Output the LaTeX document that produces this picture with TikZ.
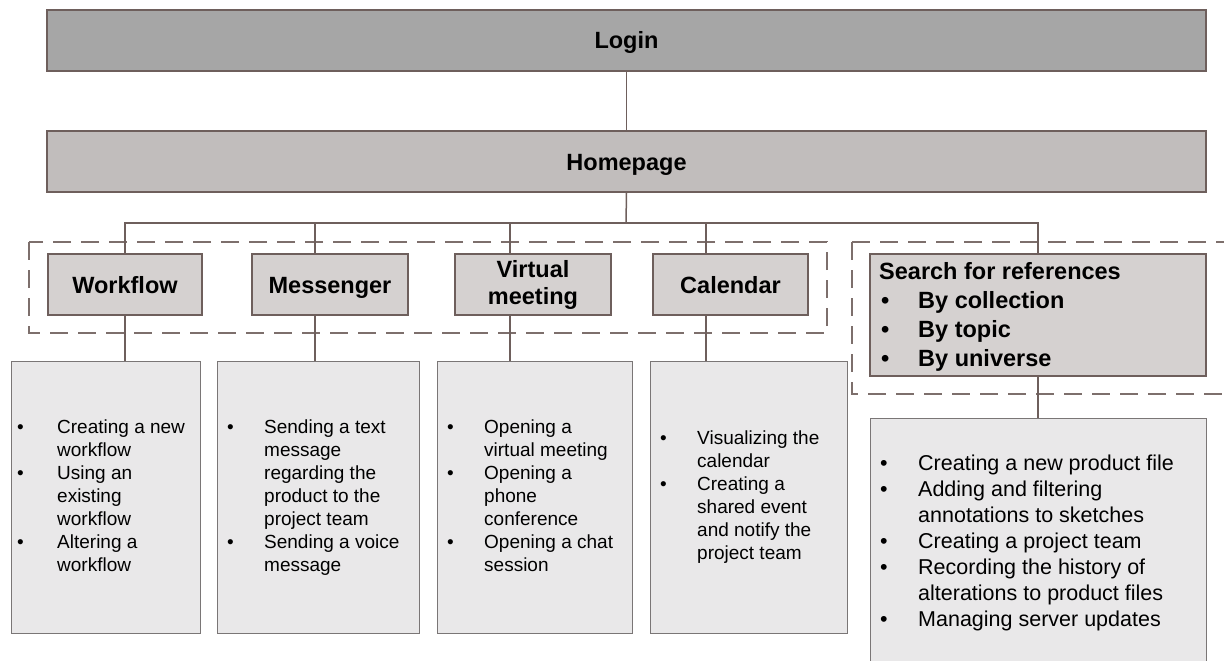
\documentclass[tikz,border=0pt]{standalone}
\usepackage{fontspec}
\setmainfont{Liberation Sans}
\usetikzlibrary{calc}
\definecolor{edge}{HTML}{6E5F5C}
\definecolor{loginfill}{HTML}{A6A6A6}
\definecolor{homefill}{HTML}{C1BDBC}
\definecolor{modfill}{HTML}{D5D1D0}
\definecolor{detfill}{HTML}{E9E8E9}
\definecolor{detedge}{HTML}{7A7676}
\newlength{\bulind}
\newcommand{\B}{\makebox[\bulind][l]{\textbullet}}
\begin{document}
\begin{tikzpicture}[x=1pt,y=-1pt,
  topbox/.style={draw=edge,line width=1.5pt,inner sep=0pt,minimum width=1159pt,minimum height=61pt,text height=17pt,text depth=0pt,font=\fontsize{23.5}{28}\selectfont\bfseries},
  modbox/.style={draw=edge,line width=1.5pt,fill=modfill,inner sep=0pt,minimum height=61pt,align=center,font=\fontsize{23.5}{28}\selectfont\bfseries},
  oneline/.style={text height=17pt,text depth=0pt},
  detbox/.style={draw=detedge,line width=1pt,fill=detfill,inner sep=0pt},
  dettext/.style={inner sep=0pt,anchor=north west,font=\fontsize{19}{23}\selectfont},
  conn/.style={draw=edge,line width=1.5pt},
  group/.style={draw=edge!90,line width=1.1pt,dash pattern=on 18pt off 10pt}]
\useasboundingbox (0,0) rectangle (1224,661);

% group frames
\draw[group] (29,242) rectangle (827,333);
\draw[group] (852,242) -- (1224,242);
\draw[group] (852,242) -- (852,394) -- (1224,394);

% top boxes
\node[topbox,fill=loginfill] (login) at (626.5,40.5) {Login};
\node[topbox,fill=homefill] (home) at (626.5,161.5) {Homepage};

% module boxes
\node[modbox,oneline,minimum width=154pt] (wf) at (125,284.5) {Workflow};
\node[modbox,oneline,minimum width=156pt] (msg) at (330,284.5) {Messenger};
\node[modbox,minimum width=156pt] (vm) at (533,284.5) {Virtual\\[-1pt]meeting};
\node[modbox,oneline,minimum width=155pt] (cal) at (730.5,284.5) {Calendar};
\node[modbox,minimum width=336pt,minimum height=122pt] (sr) at (1038,315) {};
\node[inner sep=0pt,anchor=north west,align=left,font=\fontsize{23.5}{29}\selectfont\bfseries] (srt) at (879,262)
  {Search for references\\
   \makebox[39pt][l]{\hspace*{2pt}\textbullet}By collection\\
   \makebox[39pt][l]{\hspace*{2pt}\textbullet}By topic\\
   \makebox[39pt][l]{\hspace*{2pt}\textbullet}By universe};

% detail boxes
\node[detbox,minimum width=189pt,minimum height=272pt] (wfd) at (105.5,497) {};
\node[detbox,minimum width=202pt,minimum height=272pt] (msgd) at (318,497) {};
\node[detbox,minimum width=195pt,minimum height=272pt] (vmd) at (534.5,497) {};
\node[detbox,minimum width=197pt,minimum height=272pt] (cald) at (748.5,497) {};
\node[detbox,minimum width=336pt,minimum height=250pt] (srd) at (1038,543) {};

\setlength{\tabcolsep}{0pt}
\setlength{\bulind}{40pt}
\node[dettext] (wft) at (17,417) {%
  \begin{tabular}{ll}
  \B & Creating a new\\ & workflow\\
  \B & Using an\\ & existing\\ & workflow\\
  \B & Altering a\\ & workflow
  \end{tabular}};
\node[dettext] (msgt) at (227,417) {\setlength{\bulind}{37pt}%
  \begin{tabular}{ll}
  \B & Sending a text\\ & message\\ & regarding the\\ & product to the\\ & project team\\
  \B & Sending a voice\\ & message
  \end{tabular}};
\node[dettext] (vmt) at (447,417) {\setlength{\bulind}{37pt}%
  \begin{tabular}{ll}
  \B & Opening a\\ & virtual meeting\\
  \B & Opening a\\ & phone\\ & conference\\
  \B & Opening a chat\\ & session
  \end{tabular}};
\node[dettext] (calt) at (660,428) {\setlength{\bulind}{37pt}%
  \begin{tabular}{ll}
  \B & Visualizing the\\ & calendar\\
  \B & Creating a\\ & shared event\\ & and notify the\\ & project team
  \end{tabular}};
\node[dettext,font=\fontsize{21.5}{26}\selectfont] (srdt) at (880,452) {\setlength{\bulind}{38pt}%
  \begin{tabular}{ll}
  \B & Creating a new product file\\
  \B & Adding and filtering\\ & annotations to sketches\\
  \B & Creating a project team\\
  \B & Recording the history of\\ & alterations to product files\\
  \B & Managing server updates
  \end{tabular}};

% connectors
\coordinate (bus) at (626,223);
\draw[conn] (login) -- (home);
\draw[conn] (home.south) -- (bus);
\draw[conn] (wf.north) |- (bus) -| (sr.north);
\draw[conn] ([xshift=-15pt]msg.north) -- ([xshift=-15pt]msg.north |- bus);
\draw[conn] ([xshift=-23pt]vm.north) -- ([xshift=-23pt]vm.north |- bus);
\draw[conn] ([xshift=-24.5pt]cal.north) -- ([xshift=-24.5pt]cal.north |- bus);
\draw[conn] (wf.south) -- (wf.south |- wfd.north);
\draw[conn] ([xshift=-15pt]msg.south) -- ([xshift=-15pt]msg.south |- msgd.north);
\draw[conn] ([xshift=-23pt]vm.south) -- ([xshift=-23pt]vm.south |- vmd.north);
\draw[conn] ([xshift=-24.5pt]cal.south) -- ([xshift=-24.5pt]cal.south |- cald.north);
\draw[conn] (sr.south) -- (srd.north);
\end{tikzpicture}
\end{document}
